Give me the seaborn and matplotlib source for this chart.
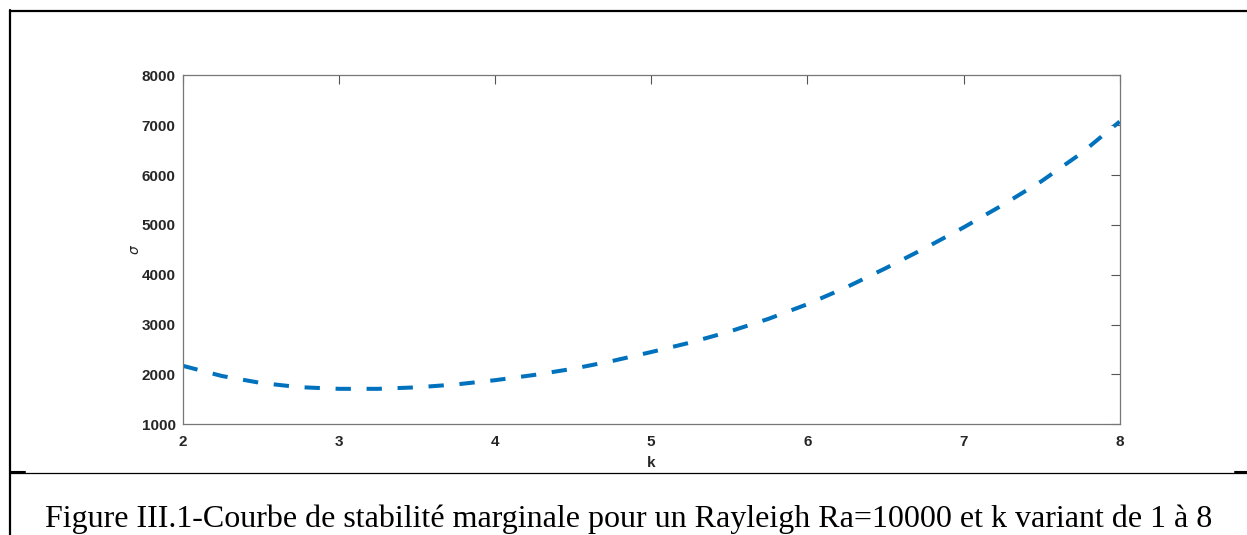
import numpy as np
import pandas as pd
import matplotlib
matplotlib.use("Agg")
import matplotlib.pyplot as plt
from matplotlib.lines import Line2D
import seaborn as sns

# values
k_vals = [2.0, 2.25, 2.5, 2.75, 3.0, 3.25, 3.5, 3.75, 4.0, 4.25, 4.5, 4.75,
          5.0, 5.25, 5.5, 5.75, 6.0, 6.25, 6.5, 6.75, 7.0, 7.25, 7.5, 7.75, 8.0]
sigma_vals = [2175, 1970, 1830, 1745, 1712, 1712, 1742, 1800, 1885, 1990, 2115, 2270,
              2450, 2640, 2860, 3115, 3410, 3750, 4130, 4530, 4950, 5400, 5880, 6430, 7075]
x_ticks = [2, 3, 4, 5, 6, 7, 8]
y_ticks = [1000, 2000, 3000, 4000, 5000, 6000, 7000, 8000]
caption = "Figure III.1-Courbe de stabilité marginale pour un Rayleigh Ra=10000 et k variant de 1 à 8"


def main():
    sns.set_style("white")
    plt.rcParams["font.family"] = ["Liberation Sans", "DejaVu Sans"]

    df = pd.DataFrame({"k": k_vals, "sigma": sigma_vals})

    fig = plt.figure(figsize=(12.47, 5.35), dpi=100)
    ax = fig.add_axes([0.1465, 0.2069, 0.7514, 0.652])

    sns.lineplot(data=df, x="k", y="sigma", ax=ax, color="#0072BD",
                 linewidth=2.9, linestyle="--")
    ax.lines[0].set_dashes((3.8, 3.9))
    ax.lines[0].set_dash_capstyle("butt")

    ax.set_xlim(2, 8)
    ax.set_ylim(1000, 8000)
    ax.set_xticks(x_ticks)
    ax.set_yticks(y_ticks)

    grey = "#777777"
    for sp in ax.spines.values():
        sp.set_visible(True)
        sp.set_color(grey)
        sp.set_linewidth(0.9)
    ax.tick_params(axis="both", direction="in", length=6.5, width=0.8, color="#555555",
                   top=True, right=True, labelsize=11, labelcolor="#262626")
    ax.tick_params(axis="y", pad=5)
    ax.tick_params(axis="x", pad=8)
    for lab in ax.get_xticklabels() + ax.get_yticklabels():
        lab.set_fontweight("bold")

    ax.set_xlabel("k", fontsize=11, fontweight="bold", color="#262626", labelpad=5)
    ax.set_ylabel(r"$\sigma$", fontsize=10, color="#262626", labelpad=0)

    # page frame around the figure
    fig.add_artist(Line2D([10 / 1247, 10 / 1247], [0, 1 - 10 / 535], color="black",
                          linewidth=1.6, transform=fig.transFigure))
    fig.add_artist(Line2D([10 / 1247, 1], [1 - 11 / 535, 1 - 11 / 535], color="black",
                          linewidth=1.6, transform=fig.transFigure))
    fig.add_artist(Line2D([10 / 1247, 1], [1 - 472.5 / 535, 1 - 472.5 / 535], color="black",
                          linewidth=0.9, transform=fig.transFigure))
    fig.add_artist(Line2D([10 / 1247, 25 / 1247], [1 - 471.8 / 535, 1 - 471.8 / 535],
                          color="black", linewidth=1.5, transform=fig.transFigure))
    fig.add_artist(Line2D([1235 / 1247, 1], [1 - 471.8 / 535, 1 - 471.8 / 535],
                          color="black", linewidth=1.5, transform=fig.transFigure))

    fig.text(45 / 1247, 7.5 / 535, caption, family="Liberation Serif", fontsize=23,
             color="black", ha="left", va="baseline")

    fig.savefig("out.png", dpi=100)


if __name__ == "__main__":
    main()
